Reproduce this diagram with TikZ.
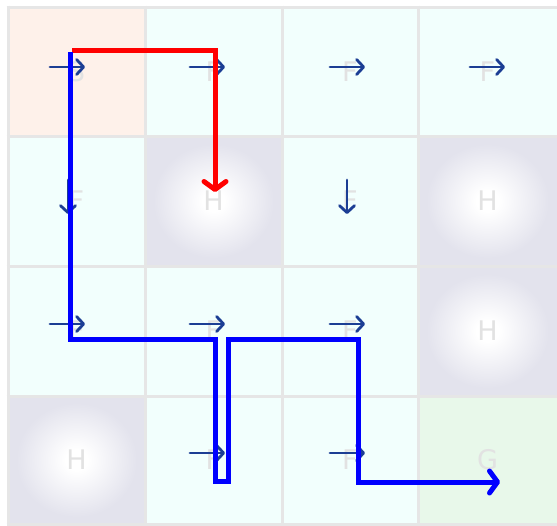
\documentclass[tikz,border=0pt]{standalone}
\usepackage{fontspec}
\setmainfont{DejaVu Sans}
\usetikzlibrary{arrows.meta}

\definecolor{startcol}{HTML}{FEF1EA}
\definecolor{frozencol}{HTML}{F2FFFD}
\definecolor{holecol}{HTML}{E3E3ED}
\definecolor{goalcol}{HTML}{E8F8EA}
\definecolor{gridcol}{HTML}{E6E6E6}
\definecolor{lettercol}{HTML}{E2E2E2}
\definecolor{policycol}{HTML}{1C3E94}
\definecolor{failcol}{HTML}{FF0000}
\definecolor{successcol}{HTML}{0000FF}

% soft white glow in the middle of a hole cell
\pgfdeclareradialshading{holeglow}{\pgfpoint{0bp}{0bp}}{%
  color(0bp)=(white); color(4bp)=(white); color(22bp)=(holecol); color(50bp)=(holecol)}

\tikzset{
  cell/.style={rectangle, minimum width=137pt, minimum height=129.5pt,
    inner sep=0pt, outer sep=0pt, text=lettercol, font=\fontsize{27}{27}\selectfont},
  lastcol/.style={minimum width=139pt},
  startcell/.style={cell, fill=startcol},
  frozencell/.style={cell, fill=frozencol},
  holecell/.style={cell, shade, shading=holeglow},
  goalcell/.style={cell, fill=goalcol},
  policy/.style={draw=policycol, line width=2.8pt, line cap=round,
    -{Straight Barb[length=7pt, width=15pt, line cap=round, line join=round]}},
  route/.style={line width=5pt, line join=miter},
  failroute/.style={route, draw=failcol,
    -{Straight Barb[length=8pt, width=22pt, line cap=round, line join=round]}},
  goodroute/.style={route, draw=successcol,
    -{Straight Barb[length=8pt, width=22pt, line cap=round, line join=round]}},
}

\begin{document}
\begin{tikzpicture}[x=1pt, y=-1pt]
\useasboundingbox (0,0) rectangle (557,525);
\clip (0,0) rectangle (557,525);
\fill[white] (0,0) rectangle (557,525);

% the 4x4 lake
\node[startcell]  (c00) at (76.5,71.5)  {S};
\node[frozencell] (c01) at (213.5,71.5) {F};
\node[frozencell] (c02) at (350,71.5)   {F};
\node[frozencell, lastcol] (c03) at (487.5,71.5) {F};
\node[frozencell] (c10) at (76.5,201)   {F};
\node[holecell]   (c11) at (213.5,201)  {H};
\node[frozencell] (c12) at (350,201)    {F};
\node[holecell, lastcol] (c13) at (487.5,201) {H};
\node[frozencell] (c20) at (76.5,331)   {F};
\node[frozencell] (c21) at (213.5,331)  {F};
\node[frozencell] (c22) at (350,331)    {F};
\node[holecell, lastcol] (c23) at (487.5,331) {H};
\node[holecell]   (c30) at (76.5,460)   {H};
\node[frozencell] (c31) at (213.5,460)  {F};
\node[frozencell] (c32) at (350,460)    {F};
\node[goalcell, lastcol] (c33) at (487.5,460) {G};

% grid lines, kept inside the lake
\foreach \gx in {8,145,282,418}
  \draw[gridcol, line width=3pt] (\gx,5.5) -- (\gx,525);
\foreach \gy in {7,136,266,396,524}
  \draw[gridcol, line width=3pt] (6.5,\gy) -- (557,\gy);

% greedy policy arrows
\foreach \ax/\ay in {50/67, 190/67, 330/67, 470/67,
                     50/324, 190/324, 330/324,
                     190/453, 330/453}
  \draw[policy] (\ax,\ay) -- ++(35,0);
\foreach \ax in {68, 347}
  \draw[policy] (\ax,180) -- ++(0,34);

% route that ends in the hole
\coordinate (r0) at (72,50);
\coordinate (r1) at (215,50);
\coordinate (r2) at (215,192);
\draw[failroute] (r0) -- (r1) -- (r2);

% route that reaches the goal
\coordinate (b0) at (70.5,52);
\coordinate (b1) at (70.5,339);
\coordinate (b2) at (215,339);
\coordinate (b3) at (215,481);
\coordinate (b4) at (228.5,481);
\coordinate (b5) at (228.5,339);
\coordinate (b6) at (358,339);
\coordinate (b7) at (358,482);
\coordinate (b8) at (500,482);
\draw[goodroute] (b0) -- (b1) -- (b2) -- (b3) -- (b4) -- (b5) -- (b6) -- (b7) -- (b8);
\end{tikzpicture}
\end{document}
